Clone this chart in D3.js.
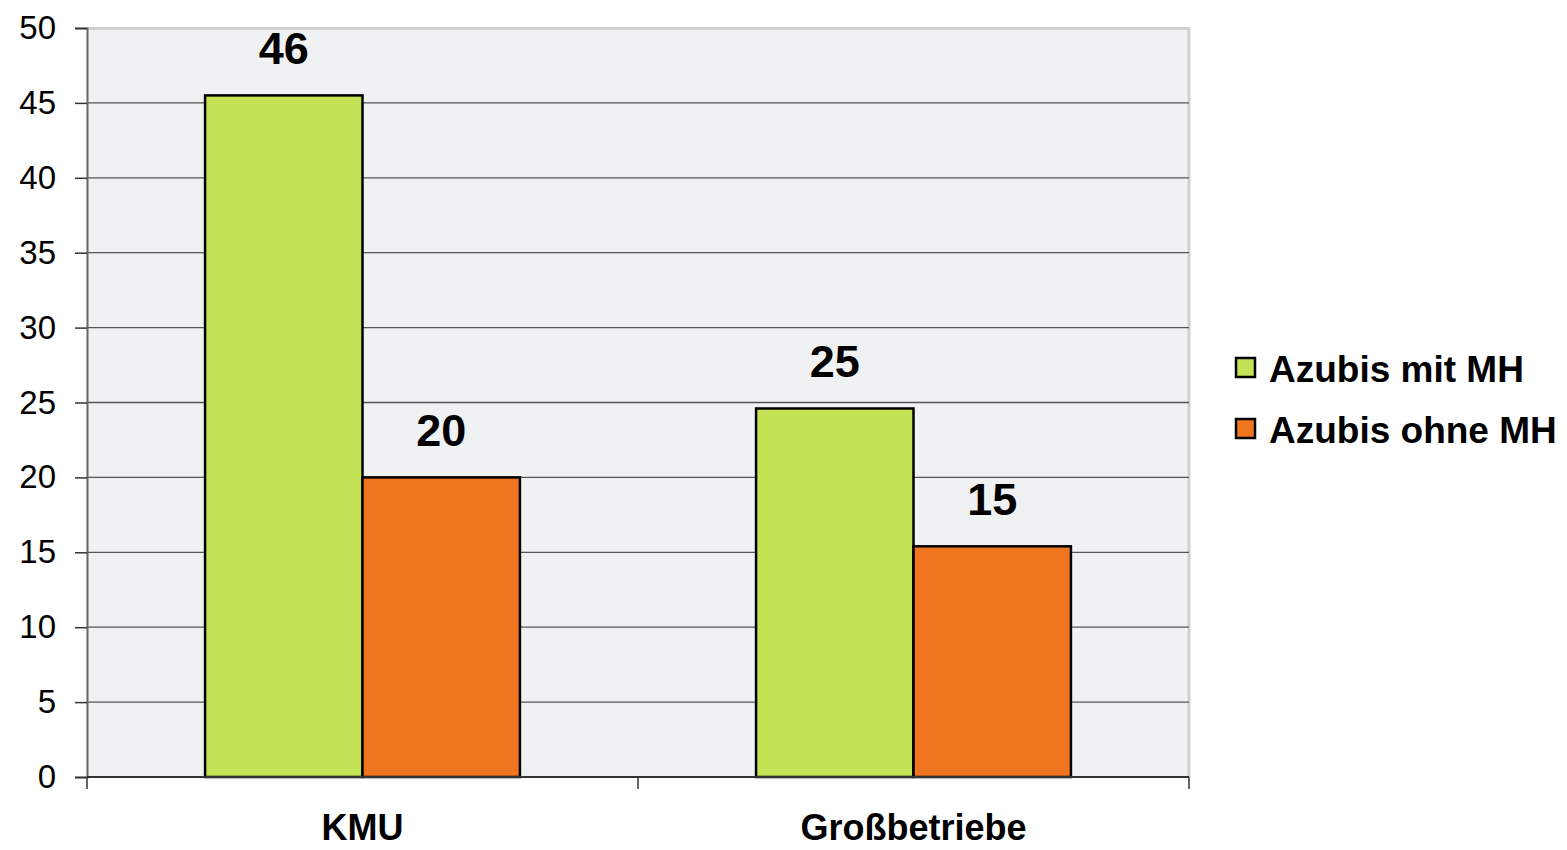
<!DOCTYPE html>
<html>
<head>
<meta charset="utf-8">
<script src="https://cdn.jsdelivr.net/npm/d3@7"></script>
<style>
  body { margin: 0; background: #fff; }
  svg text { font-family: "Liberation Sans", Arial, sans-serif; }
</style>
</head>
<body>
<div id="chart"></div>
<script>
// data
const categories = ['KMU', 'Großbetriebe'];
const seriesNames = ['Azubis mit MH', 'Azubis ohne MH'];
const mitMH = [45.5, 24.6];
const ohneMH = [20.0, 15.4];
const yTicks = [0, 5, 10, 15, 20, 25, 30, 35, 40, 45, 50];

const colors = ['#c4e256', '#ef761f'];
const width = 1567, height = 850;
const margin = { top: 28, right: 378, bottom: 73, left: 87 };
const innerW = width - margin.left - margin.right;
const innerH = height - margin.top - margin.bottom;

const svg = d3.select('#chart').append('svg')
  .attr('width', width)
  .attr('height', height);

const g = svg.append('g').attr('transform', `translate(${margin.left},${margin.top})`);

const x0 = d3.scaleBand().domain(categories).range([0, innerW]).paddingInner(0).paddingOuter(0);
const x1 = d3.scaleBand().domain(seriesNames).range([0, x0.bandwidth()]).paddingInner(0).paddingOuter(0.75);
const y = d3.scaleLinear().domain([0, 50]).range([innerH, 0]);

// plot background
g.append('rect')
  .attr('width', innerW).attr('height', innerH)
  .attr('fill', '#f0f1f3');
// light border top/right
g.append('path')
  .attr('d', `M0,0.5H${innerW}V${innerH}`)
  .attr('fill', 'none').attr('stroke', '#cfd0d2').attr('stroke-width', 3);

// gridlines
g.selectAll('.grid').data(yTicks.filter(d => d > 0 && d < 50))
  .enter().append('line')
  .attr('x1', 0).attr('x2', innerW)
  .attr('y1', d => y(d)).attr('y2', d => y(d))
  .attr('stroke', '#555').attr('stroke-width', 1.3);

// y axis
const yAxis = g.append('g')
  .call(d3.axisLeft(y).tickValues(yTicks).tickSize(12).tickPadding(19));
yAxis.select('.domain').attr('stroke', '#666').attr('stroke-width', 2);
yAxis.selectAll('.tick line').attr('stroke', '#333').attr('stroke-width', 1.5);
yAxis.selectAll('.tick text').attr('font-size', 33).attr('fill', '#000')
  .style('font-family', '"Liberation Sans", Arial, sans-serif');

// bars
const rows = categories.map((c, i) => ({ cat: c, vals: [mitMH[i], ohneMH[i]] }));
const grp = g.selectAll('.grp').data(rows).enter().append('g')
  .attr('transform', d => `translate(${x0(d.cat)},0)`);

grp.selectAll('rect').data(d => d.vals.map((v, j) => ({ s: seriesNames[j], v, j })))
  .enter().append('rect')
  .attr('x', d => x1(d.s))
  .attr('y', d => y(d.v))
  .attr('width', x1.bandwidth())
  .attr('height', d => innerH - y(d.v))
  .attr('fill', d => colors[d.j])
  .attr('stroke', '#000').attr('stroke-width', 2.5);

grp.selectAll('.lbl').data(d => d.vals.map((v, j) => ({ s: seriesNames[j], v, j })))
  .enter().append('text')
  .attr('x', d => x1(d.s) + x1.bandwidth() / 2)
  .attr('y', d => y(d.v) - 31)
  .attr('text-anchor', 'middle')
  .attr('font-size', 45).attr('font-weight', 'bold')
  .text(d => Math.round(d.v));

// x axis
const xAxis = g.append('g').attr('transform', `translate(0,${innerH})`);
xAxis.append('line').attr('x1', 0).attr('x2', innerW)
  .attr('stroke', '#333').attr('stroke-width', 2);
const xEdges = [0].concat(categories.map(c => x0(c) + x0.bandwidth()));
xAxis.selectAll('.xt').data(xEdges).enter().append('line')
  .attr('x1', d => d).attr('x2', d => d)
  .attr('y1', 0).attr('y2', 12)
  .attr('stroke', '#333').attr('stroke-width', 1.5);
xAxis.selectAll('.xl').data(categories).enter().append('text')
  .attr('x', d => x0(d) + x0.bandwidth() / 2)
  .attr('y', 63)
  .attr('text-anchor', 'middle')
  .attr('font-size', 36).attr('font-weight', 'bold')
  .text(d => d);

// legend
const legend = svg.append('g').attr('transform', 'translate(1236,358)');
const li = legend.selectAll('g').data(seriesNames).enter().append('g')
  .attr('transform', (d, i) => `translate(0,${i * 61})`);
li.append('rect').attr('width', 19).attr('height', 19)
  .attr('fill', (d, i) => colors[i])
  .attr('stroke', '#000').attr('stroke-width', 2.5);
li.append('text')
  .attr('x', 33).attr('y', 24)
  .attr('font-size', 37).attr('font-weight', 'bold')
  .text(d => d);
</script>
</body>
</html>
